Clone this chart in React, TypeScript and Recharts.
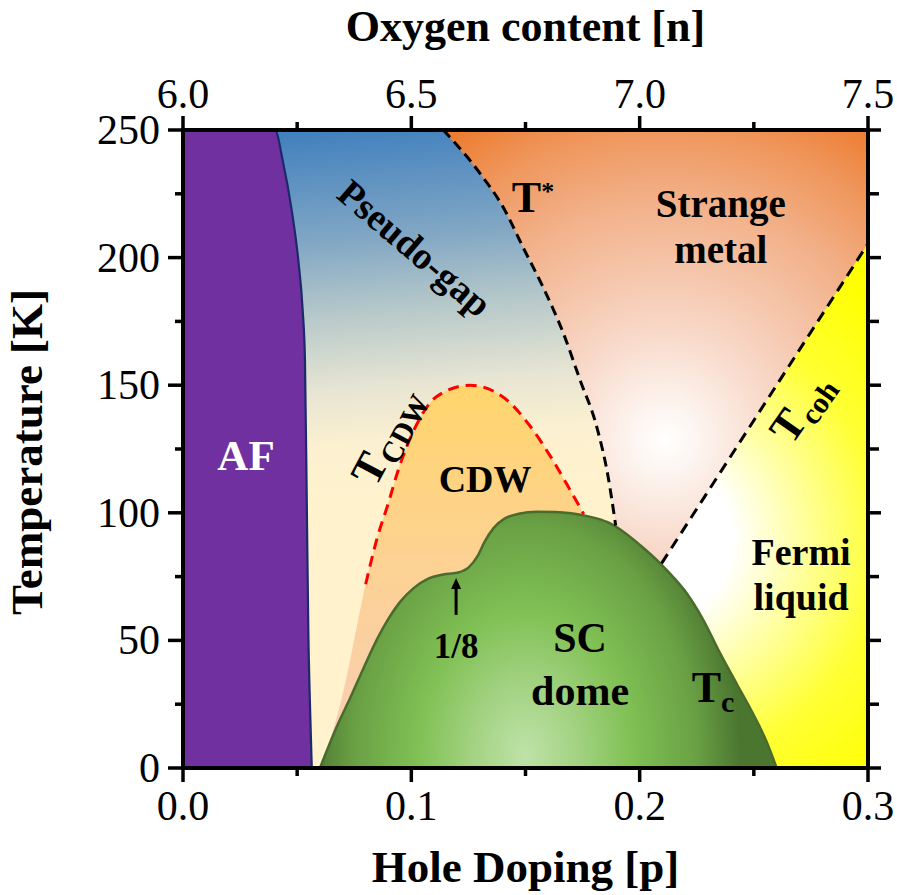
import React from 'react';
import { ComposedChart, Area, Line, XAxis, YAxis, ReferenceDot, ReferenceLine, Label } from 'recharts';

const SERIF = '"Liberation Serif", "Times New Roman", Times, serif';

// Axis ticks
const dopingTicks = [0, 0.05, 0.1, 0.15, 0.2, 0.25, 0.3];
const tempTicks = [0, 25, 50, 75, 100, 125, 150, 175, 200, 225, 250];

// AF (antiferromagnet) boundary
const afDoping = [0, 0.0402, 0.0439, 0.0476, 0.0505, 0.0524, 0.0534, 0.0542, 0.0549, 0.0556, 0.0564];
const afTemp = [250, 250, 237, 218.6, 199, 179.5, 160.5, 105, 52.8, 25, 0];

// Pseudo-gap extent (background band)
const pgDoping = [0.03, 0.195];
const pgTemp = [250, 250];

// T* line
const tStarDoping = [0.114, 0.1301, 0.1403, 0.149, 0.1578, 0.1666, 0.1739, 0.1812, 0.1862, 0.1895];
const tStarTemp = [250, 233, 219.6, 203.9, 188.2, 170.3, 152, 133.7, 114, 95];

// T_coh line
const tCohDoping = [0.2096, 0.3];
const tCohTemp = [80.2, 205.5];

// CDW dome
const cdwDoping = [0.06, 0.064, 0.068, 0.072, 0.076, 0.08, 0.085, 0.09, 0.094, 0.102, 0.111, 0.1257, 0.14, 0.152, 0.161, 0.1695, 0.1755];
const cdwTemp = [0, 10, 22, 37, 55, 72, 90, 104, 116, 134, 145.5, 150, 145.5, 134, 122, 109, 99.5];

// SC dome (Tc)
const scDoping = [0.06, 0.064, 0.068, 0.073, 0.079, 0.085, 0.09, 0.095, 0.101, 0.107, 0.114, 0.12, 0.125, 0.129, 0.132, 0.136, 0.141, 0.147, 0.155, 0.163, 0.17, 0.178, 0.186, 0.193, 0.2, 0.209, 0.215, 0.2206, 0.2279, 0.2352, 0.2425, 0.2498, 0.2555, 0.26];
const scTemp = [0, 9, 17.5, 27, 39, 50.5, 58.5, 65, 70.5, 74, 75.8, 76.5, 78.5, 83, 88.5, 94, 97.8, 99.6, 100.4, 100.3, 99.8, 98.5, 96.3, 92.5, 87.5, 80.2, 74.5, 68.5, 58, 45, 33, 21, 10.5, 0];

const zip = (ps: number[], ts: number[]) => ps.map((p, i) => ({ p, t: ts[i] }));

const fermiData = [{ p: 0, v: [0, 250] }, { p: 0.3, v: [0, 250] }];
const pgData = zip(pgDoping, pgTemp);
const afData = zip(afDoping, afTemp);
const tStarData = zip(tStarDoping, tStarTemp);
const tCohData = zip(tCohDoping, tCohTemp);
const cdwData = zip(cdwDoping, cdwTemp);
const cdwLineData = cdwData.filter((d) => d.p >= 0.08);
const scData = zip(scDoping, scTemp);
const strangeData = [...tStarData, ...tCohData].map((d) => ({ p: d.p, v: [d.t, 250] }));

const isMajorX = (v: number) => Math.round(v * 100) % 10 === 0;
const isMajorY = (v: number) => Math.round(v) % 50 === 0;

const BottomTick = (props: any) => {
  const { x, y, payload } = props;
  const v = payload.value;
  const major = isMajorX(v);
  return (
    <g>
      <line x1={x} y1={y} x2={x} y2={y + (major ? 14 : 8)} stroke="#000" strokeWidth={3.5} />
      {major && (
        <text x={x} y={y + 52} textAnchor="middle" fontSize={42} fontFamily={SERIF} fill="#000">
          {v.toFixed(1)}
        </text>
      )}
    </g>
  );
};

const TopTick = (props: any) => {
  const { x, y, payload } = props;
  const v = payload.value;
  const major = isMajorX(v);
  return (
    <g>
      <line x1={x} y1={y} x2={x} y2={y - (major ? 14 : 8)} stroke="#000" strokeWidth={3.5} />
      {major && (
        <text x={x} y={y - 22} textAnchor="middle" fontSize={42} fontFamily={SERIF} fill="#000">
          {(6 + 5 * v).toFixed(1)}
        </text>
      )}
    </g>
  );
};

const LeftTick = (props: any) => {
  const { x, y, payload } = props;
  const v = payload.value;
  const major = isMajorY(v);
  return (
    <g>
      <line x1={x} y1={y} x2={x - (major ? 15 : 8)} y2={y} stroke="#000" strokeWidth={3.5} />
      {major && (
        <text x={x - 23} y={y + 14} textAnchor="end" fontSize={42} fontFamily={SERIF} fill="#000">
          {v}
        </text>
      )}
    </g>
  );
};

const RightTick = (props: any) => {
  const { x, y, payload } = props;
  const major = isMajorY(payload.value);
  return <line x1={x} y1={y} x2={x + (major ? 13 : 11)} y2={y} stroke="#000" strokeWidth={3.5} />;
};

const txt = (
  content: React.ReactNode,
  opts: { size?: number; anchor?: string; rotate?: number; fill?: string; dy?: string } = {}
) =>
  (props: any) => {
    const { cx, cy } = props;
    return (
      <text
        x={cx}
        y={cy}
        dy={opts.dy}
        textAnchor={opts.anchor || 'middle'}
        fontSize={opts.size || 40}
        fontWeight="bold"
        fontFamily={SERIF}
        fill={opts.fill || '#000'}
        transform={opts.rotate ? `rotate(${opts.rotate} ${cx} ${cy})` : undefined}
      >
        {content}
      </text>
    );
  };

const ArrowShape = (props: any) => {
  const { x1, y1, x2, y2 } = props;
  const head = 11;
  const dir = y2 < y1 ? -1 : 1;
  return (
    <g>
      <line x1={x1} y1={y1} x2={x2} y2={y2 - dir * head + dir * 1} stroke="#000" strokeWidth={3} />
      <polygon points={`${x2},${y2} ${x2 - 5},${y2 - dir * head} ${x2 + 5},${y2 - dir * head}`} fill="#000" />
    </g>
  );
};

const axisLine = { stroke: '#000', strokeWidth: 4, strokeLinecap: 'square' as const };

export default function App() {
  return (
    <div style={{ position: 'absolute', left: 0, top: 0, width: 897, height: 895, background: '#fff' }}>
      <ComposedChart width={897} height={895} margin={{ top: 0, right: 0, bottom: 0, left: 0 }}>
        <defs>
          <radialGradient id="fermiGrad" gradientUnits="userSpaceOnUse" cx="650" cy="540" r="330">
            <stop offset="0" stopColor="#FFFFFF" />
            <stop offset="0.25" stopColor="#FFFFFF" />
            <stop offset="0.7" stopColor="#FFFF33" />
            <stop offset="1" stopColor="#FFFF00" />
          </radialGradient>
          <linearGradient id="pgGrad" gradientUnits="userSpaceOnUse" x1="300" y1="130" x2="330" y2="500">
            <stop offset="0" stopColor="#4080BE" />
            <stop offset="0.3" stopColor="#80A6C4" />
            <stop offset="0.5" stopColor="#B5C8C9" />
            <stop offset="0.7" stopColor="#E6E4D3" />
            <stop offset="0.85" stopColor="#FBF0D0" />
            <stop offset="1" stopColor="#FFF2CD" />
          </linearGradient>
          <radialGradient id="smGrad" gradientUnits="userSpaceOnUse" cx="665" cy="440" r="370">
            <stop offset="0" stopColor="#FFFFFF" />
            <stop offset="0.08" stopColor="#FDF6F2" />
            <stop offset="0.3" stopColor="#F8D8C8" />
            <stop offset="0.65" stopColor="#F2B088" />
            <stop offset="0.85" stopColor="#EF955A" />
            <stop offset="1" stopColor="#ED7D31" />
          </radialGradient>
          <linearGradient id="cdwGrad" gradientUnits="userSpaceOnUse" x1="0" y1="385" x2="0" y2="768">
            <stop offset="0" stopColor="#FFD56C" />
            <stop offset="0.4" stopColor="#FDD28E" />
            <stop offset="1" stopColor="#F8CDB8" />
          </linearGradient>
          <radialGradient
            id="scGrad"
            gradientUnits="userSpaceOnUse"
            cx="525"
            cy="755"
            r="215"
            gradientTransform="translate(525 755) scale(1 1.35) translate(-525 -755)"
          >
            <stop offset="0" stopColor="#BFE2A8" />
            <stop offset="0.25" stopColor="#A2D281" />
            <stop offset="0.5" stopColor="#80C054" />
            <stop offset="0.8" stopColor="#69A044" />
            <stop offset="1" stopColor="#4B7630" />
          </radialGradient>
        </defs>

        <XAxis
          type="number"
          dataKey="p"
          domain={[0, 0.3]}
          allowDataOverflow
          ticks={dopingTicks}
          interval={0}
          height={127}
          axisLine={axisLine}
          tickLine={false}
          tickSize={0}
          tickMargin={0}
          tick={<BottomTick />}
        >
          <Label
            content={(props: any) => {
              const vb = props.viewBox;
              return (
                <text x={vb.x + vb.width / 2} y={vb.y + 114} textAnchor="middle" fontSize={45} fontWeight="bold" fontFamily={SERIF}>
                  Hole Doping [p]
                </text>
              );
            }}
          />
        </XAxis>
        <XAxis
          xAxisId="top"
          orientation="top"
          type="number"
          dataKey="p"
          domain={[0, 0.3]}
          allowDataOverflow
          ticks={dopingTicks}
          interval={0}
          height={130}
          axisLine={axisLine}
          tickLine={false}
          tickSize={0}
          tickMargin={0}
          tick={<TopTick />}
        >
          <Label
            content={(props: any) => {
              const vb = props.viewBox;
              return (
                <text x={vb.x + vb.width / 2} y={vb.y + 41} textAnchor="middle" fontSize={44} fontWeight="bold" fontFamily={SERIF}>
                  Oxygen content [n]
                </text>
              );
            }}
          />
        </XAxis>
        <YAxis
          type="number"
          domain={[0, 250]}
          allowDataOverflow
          ticks={tempTicks}
          interval={0}
          width={183}
          axisLine={axisLine}
          tickLine={false}
          tickSize={0}
          tickMargin={0}
          tick={<LeftTick />}
        >
          <Label
            content={(props: any) => {
              const vb = props.viewBox;
              const cx = vb.x + 42;
              const cy = vb.y + vb.height / 2 + 3;
              return (
                <text x={cx} y={cy} textAnchor="middle" fontSize={45} fontWeight="bold" fontFamily={SERIF} transform={`rotate(-90 ${cx} ${cy})`}>
                  Temperature [K]
                </text>
              );
            }}
          />
        </YAxis>
        <YAxis
          yAxisId="right"
          orientation="right"
          type="number"
          domain={[0, 250]}
          allowDataOverflow
          ticks={tempTicks}
          interval={0}
          width={29}
          axisLine={axisLine}
          tickLine={false}
          tickSize={0}
          tickMargin={0}
          tick={<RightTick />}
        />

        {/* region fills */}
        <Area data={fermiData} dataKey="v" type="linear" fill="url(#fermiGrad)" fillOpacity={1} stroke="none" isAnimationActive={false} dot={false} activeDot={false} />
        <Area data={pgData} dataKey="t" type="linear" fill="url(#pgGrad)" fillOpacity={1} stroke="none" isAnimationActive={false} dot={false} activeDot={false} />
        <Area data={strangeData} dataKey="v" type="linear" fill="url(#smGrad)" fillOpacity={1} stroke="none" isAnimationActive={false} dot={false} activeDot={false} />
        <Area data={cdwData} dataKey="t" type="monotone" fill="url(#cdwGrad)" fillOpacity={1} stroke="none" isAnimationActive={false} dot={false} activeDot={false} />
        <Area data={afData} dataKey="t" type="monotone" fill="#7030A0" fillOpacity={1} stroke="#1B2A6B" strokeWidth={2.2} isAnimationActive={false} dot={false} activeDot={false} />

        {/* boundaries */}
        <Line data={tStarData} dataKey="t" type="monotone" stroke="#000" strokeWidth={3} strokeDasharray="10 6" dot={false} activeDot={false} isAnimationActive={false} />
        <Line data={tCohData} dataKey="t" type="linear" stroke="#000" strokeWidth={3} strokeDasharray="11 7" dot={false} activeDot={false} isAnimationActive={false} />
        <Line data={cdwLineData} dataKey="t" type="monotone" stroke="#FF0000" strokeWidth={3} strokeDasharray="11 7" dot={false} activeDot={false} isAnimationActive={false} />

        <Area data={scData} dataKey="t" type="monotone" fill="url(#scGrad)" fillOpacity={1} stroke="#4A6B2E" strokeWidth={2.5} isAnimationActive={false} dot={false} activeDot={false} />

        {/* labels */}
        <ReferenceDot x={0.0276} y={116.8} shape={txt('AF', { size: 43, fill: '#FFFFFF' })} />
        <ReferenceDot x={0.1016} y={203.8} shape={txt('Pseudo-gap', { size: 38, rotate: 40.5, dy: '0.35em' })} />
        <ReferenceDot
          x={0.144}
          y={218}
          shape={txt(
            <>
              <tspan>T</tspan>
              <tspan fontSize={26} dy={-12}>*</tspan>
            </>,
            { size: 44, anchor: 'start' }
          )}
        />
        <ReferenceDot x={0.2355} y={216} shape={txt('Strange', { size: 39 })} />
        <ReferenceDot x={0.2355} y={197.8} shape={txt('metal', { size: 39 })} />
        <ReferenceDot
          x={0.0898}
          y={129.7}
          shape={txt(
            <>
              <tspan>T</tspan>
              <tspan fontSize={30} dy={8}>CDW</tspan>
            </>,
            { size: 44, rotate: -62, dy: '0.3em' }
          )}
        />
        <ReferenceDot x={0.1323} y={108.3} shape={txt('CDW', { size: 38 })} />
        <ReferenceDot
          x={0.2711}
          y={141}
          shape={txt(
            <>
              <tspan>T</tspan>
              <tspan fontSize={30} dy={8}>coh</tspan>
            </>,
            { size: 44, rotate: -55, dy: '0.3em' }
          )}
        />
        <ReferenceDot x={0.2707} y={79.5} shape={txt('Fermi', { size: 38 })} />
        <ReferenceDot x={0.2707} y={61.9} shape={txt('liquid', { size: 38 })} />
        <ReferenceDot x={0.1739} y={45.6} shape={txt('SC', { size: 42 })} />
        <ReferenceDot x={0.1739} y={24.7} shape={txt('dome', { size: 42 })} />
        <ReferenceDot
          x={0.2228}
          y={26}
          shape={txt(
            <>
              <tspan>T</tspan>
              <tspan fontSize={30} dy={10}>c</tspan>
            </>,
            { size: 44, anchor: 'start' }
          )}
        />
        <ReferenceDot x={0.1196} y={43} shape={txt('1/8', { size: 35 })} />
        <ReferenceLine
          segment={[
            { x: 0.1196, y: 60 },
            { x: 0.1196, y: 74.5 },
          ]}
          shape={<ArrowShape />}
        />
      </ComposedChart>
    </div>
  );
}
